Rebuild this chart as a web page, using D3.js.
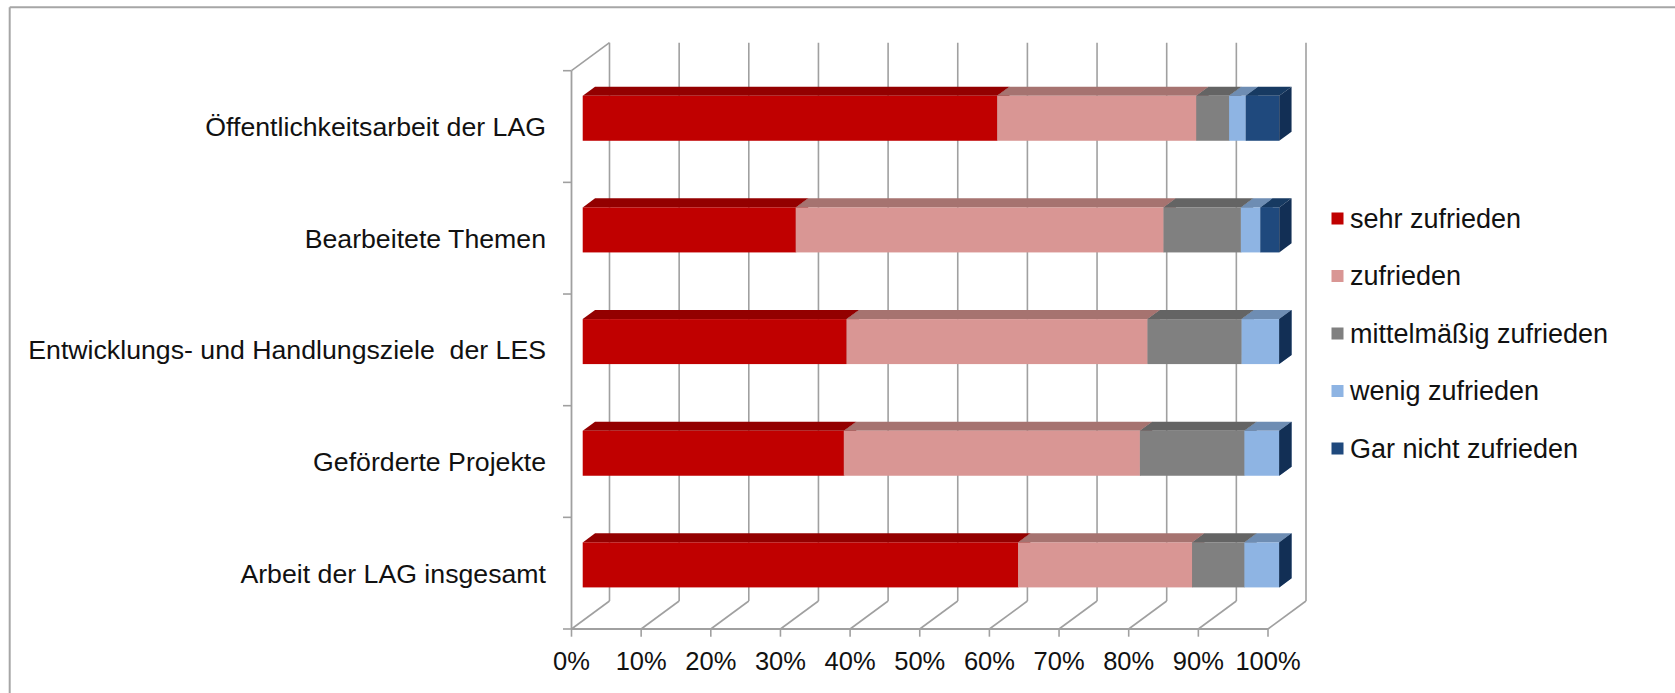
<!DOCTYPE html>
<html>
<head>
<meta charset="utf-8">
<script src="https://cdn.jsdelivr.net/npm/d3@7"></script>
<style>
  html, body { margin: 0; padding: 0; background: #fff; }
  svg { display: block; }
  text { font-family: "Liberation Sans", Arial, sans-serif; fill: #111; white-space: pre; }
</style>
</head>
<body>
<svg id="chart" width="1675" height="693"></svg>
<script>
// ---- data ----
const categories = [
  "Öffentlichkeitsarbeit der LAG",
  "Bearbeitete Themen",
  "Entwicklungs- und Handlungsziele  der LES",
  "Geförderte Projekte",
  "Arbeit der LAG insgesamt"
];
const seriesNames = ["sehr zufrieden", "zufrieden", "mittelmäßig zufrieden", "wenig zufrieden", "Gar nicht zufrieden"];
const sehrZufrieden      = [59.5, 30.6, 37.9, 37.5, 62.5];
const zufrieden          = [28.6, 52.8, 43.2, 42.5, 25.0];
const mittelmaessig      = [4.7, 11.1, 13.5, 15.0, 7.5];
const wenigZufrieden     = [2.4, 2.8, 5.4, 5.0, 5.0];
const garNichtZufrieden  = [4.8, 2.7, 0, 0, 0];
const xTickValues = [0, 10, 20, 30, 40, 50, 60, 70, 80, 90, 100];

// ---- styles ----
const frontColors = ["#C00000", "#D99694", "#808080", "#8EB4E3", "#1F497D"];
const topColors   = ["#930000", "#A67370", "#646464", "#6E8DB3", "#173A62"];
const sideColors  = ["#870000", "#9A6A68", "#5A5A5A", "#5F7FA6", "#122F55"];
const gridColor = "#a0a0a0";

const svg = d3.select("#chart");

// outer frame (top & left only visible)
svg.append("line").attr("x1", 9.7).attr("y1", 7.3).attr("x2", 1675).attr("y2", 7.3)
  .attr("stroke", "#a6a6a6").attr("stroke-width", 2);
svg.append("line").attr("x1", 9.7).attr("y1", 7.3).attr("x2", 9.7).attr("y2", 693)
  .attr("stroke", "#a6a6a6").attr("stroke-width", 2);

// ---- scales ----
const x = d3.scaleLinear().domain([0, 100]).range([571.5, 1268]);
const y = d3.scaleBand().domain(categories).range([70.7, 629])
  .paddingInner(0.597).paddingOuter(0.2985);
const plotTop = 70.7, plotBottom = 629;
const DX = 38, DY = -28;          // full depth of the 3D box
const barF1 = 0.295, barF2 = 0.62; // bar front/back depth fractions

// ---- walls & gridlines ----
const g = svg.append("g");
xTickValues.forEach(v => {
  g.append("line")
    .attr("x1", x(v) + DX).attr("y1", plotTop + DY)
    .attr("x2", x(v) + DX).attr("y2", plotBottom + DY)
    .attr("stroke", gridColor).attr("stroke-width", 1.6);
  g.append("line")
    .attr("x1", x(v)).attr("y1", plotBottom)
    .attr("x2", x(v) + DX).attr("y2", plotBottom + DY)
    .attr("stroke", gridColor).attr("stroke-width", 1.6);
});
g.append("line").attr("x1", x(0)).attr("y1", plotTop).attr("x2", x(0)).attr("y2", plotBottom)
  .attr("stroke", gridColor).attr("stroke-width", 1.8);
g.append("line").attr("x1", x(0)).attr("y1", plotTop).attr("x2", x(0) + DX).attr("y2", plotTop + DY)
  .attr("stroke", gridColor).attr("stroke-width", 1.6);
g.append("line").attr("x1", x(0)).attr("y1", plotBottom).attr("x2", x(100)).attr("y2", plotBottom)
  .attr("stroke", gridColor).attr("stroke-width", 1.8);
xTickValues.forEach(v => {
  g.append("line").attr("x1", x(v)).attr("y1", plotBottom).attr("x2", x(v)).attr("y2", plotBottom + 7.7)
    .attr("stroke", gridColor).attr("stroke-width", 1.6);
  g.append("text").attr("x", x(v)).attr("y", 670).attr("text-anchor", "middle")
    .attr("font-size", 25.5).text(v + "%");
});
const step = y.step();
for (let i = 0; i <= categories.length; i++) {
  const yy = plotTop + i * step;
  g.append("line").attr("x1", x(0) - 8.5).attr("y1", yy).attr("x2", x(0)).attr("y2", yy)
    .attr("stroke", gridColor).attr("stroke-width", 1.6);
}
categories.forEach((c, i) => {
  const cy = plotTop + (i + 0.5) * step;
  g.append("text").attr("x", 546).attr("y", cy).attr("dy", "0.35em")
    .attr("text-anchor", "end").attr("font-size", 26.7).text(c);
});

// ---- stacked 3D bars ----
const seriesData = [sehrZufrieden, zufrieden, mittelmaessig, wenigZufrieden, garNichtZufrieden];
const table = categories.map((c, i) => {
  const row = { cat: c };
  seriesNames.forEach((s, k) => row[s] = seriesData[k][i]);
  return row;
});
const stacked = d3.stack().keys(seriesNames)(table);

const ox = DX * barF1, oy = DY * barF1;
const ddx = DX * (barF2 - barF1), ddy = DY * (barF2 - barF1);
const bars = svg.append("g");
table.forEach((row, i) => {
  const yt = y(row.cat) + oy, yb = yt + y.bandwidth();
  stacked.forEach((layer, k) => {
    const x0 = x(layer[i][0]) + ox, x1 = x(layer[i][1]) + ox;
    bars.append("path")
      .attr("d", `M${x0},${yt} L${x1},${yt} L${x1 + ddx},${yt + ddy} L${x0 + ddx},${yt + ddy} Z`)
      .attr("fill", topColors[k]);
    if (x1 > x0) {
      bars.append("rect").attr("x", x0).attr("y", yt).attr("width", x1 - x0).attr("height", yb - yt)
        .attr("fill", frontColors[k]);
    }
    bars.append("path")
      .attr("d", `M${x1},${yt} L${x1 + ddx},${yt + ddy} L${x1 + ddx},${yb + ddy} L${x1},${yb} Z`)
      .attr("fill", sideColors[k]);
  });
});

// ---- legend ----
const legend = svg.append("g");
const legendY0 = 218.5, legendStep = 57.5;
seriesNames.forEach((s, k) => {
  const cy = legendY0 + k * legendStep;
  legend.append("rect").attr("x", 1331.5).attr("y", cy - 6).attr("width", 12).attr("height", 12)
    .attr("fill", frontColors[k]);
  legend.append("text").attr("x", 1350).attr("y", cy).attr("dy", "0.35em")
    .attr("font-size", 27).text(s);
});
</script>
</body>
</html>
